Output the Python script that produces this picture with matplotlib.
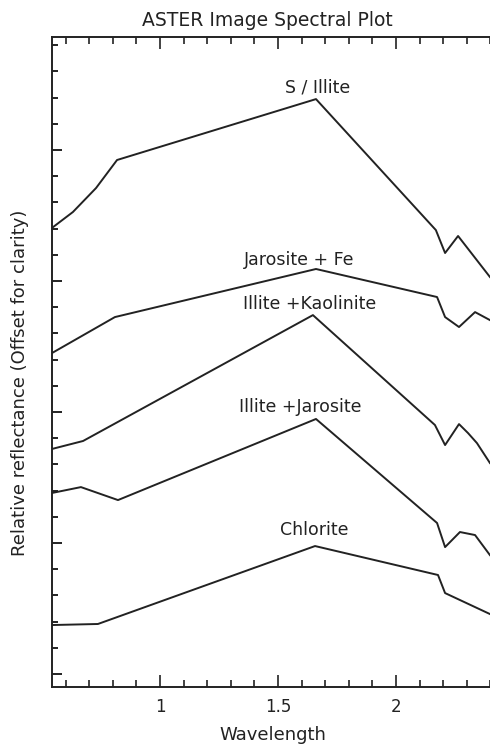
import matplotlib
matplotlib.use("Agg")
import matplotlib.pyplot as plt
from matplotlib.ticker import MultipleLocator

# spectra (wavelength in um, reflectance offset for clarity)
s_illite_x = [0.547, 0.631, 0.729, 0.818, 1.661, 2.169, 2.208, 2.263, 2.398]
s_illite_y = [3.412, 3.527, 3.710, 3.924, 4.389, 3.389, 3.214, 3.344, 3.031]

jarosite_fe_x = [0.542, 0.809, 1.661, 2.174, 2.208, 2.267, 2.335, 2.398]
jarosite_fe_y = [2.450, 2.725, 3.092, 2.878, 2.725, 2.649, 2.763, 2.702]

illite_kaol_x = [0.542, 0.674, 1.648, 2.165, 2.208, 2.267, 2.305, 2.343, 2.398]
illite_kaol_y = [1.718, 1.779, 2.740, 1.901, 1.748, 1.908, 1.840, 1.763, 1.611]

illite_jar_x = [0.542, 0.665, 0.822, 1.661, 2.174, 2.208, 2.271, 2.335, 2.398]
illite_jar_y = [1.382, 1.427, 1.328, 1.947, 1.153, 0.969, 1.084, 1.061, 0.908]

chlorite_x = [0.542, 0.737, 1.657, 2.178, 2.208, 2.398]
chlorite_y = [0.374, 0.382, 0.977, 0.756, 0.618, 0.458]

labels = ["S / Illite", "Jarosite + Fe", "Illite +Kaolinite", "Illite +Jarosite", "Chlorite"]
label_pos = [(1.669, 4.481), (1.589, 3.160), (1.636, 2.824), (1.593, 2.038), (1.653, 1.099)]

plt.rcParams['font.family'] = ['DejaVu Sans']
col = '#222222'

fig = plt.figure(figsize=(4.9, 7.49), dpi=100)
ax = fig.add_axes([52 / 490, 1 - 687 / 749, 440 / 490, 650 / 749])

for xs, ys in [(s_illite_x, s_illite_y), (jarosite_fe_x, jarosite_fe_y),
               (illite_kaol_x, illite_kaol_y), (illite_jar_x, illite_jar_y),
               (chlorite_x, chlorite_y)]:
    ax.plot(xs, ys, color=col, lw=1.4)

for txt, (tx, ty) in zip(labels, label_pos):
    ax.text(tx, ty, txt, ha='center', va='center', fontsize=12.5, color=col)

ax.set_xlim(0.5424, 2.4068)
ax.set_ylim(-0.099, 4.863)

ax.xaxis.set_minor_locator(MultipleLocator(0.1))
ax.yaxis.set_major_locator(MultipleLocator(1.0))
ax.yaxis.set_minor_locator(MultipleLocator(0.2))
ax.set_xticks([1, 1.5, 2])
ax.set_xticklabels(['1', '1.5', '2'])
ax.tick_params(axis='x', which='both', direction='in', top=True, bottom=True,
               colors=col, labelsize=12, pad=8)
ax.tick_params(axis='x', which='major', length=8.5, width=1.2)
ax.tick_params(axis='x', which='minor', length=5, width=1.2)
ax.tick_params(axis='y', which='both', direction='in', left=True, right=False,
               labelleft=False, colors=col)
ax.tick_params(axis='y', which='major', length=7.5, width=1.4)
ax.tick_params(axis='y', which='minor', length=4.5, width=1.4)

for side in ['left', 'bottom', 'top']:
    ax.spines[side].set_linewidth(1.4)
    ax.spines[side].set_color(col)
ax.spines['right'].set_visible(False)

# axis titles and plot title placed in figure pixels
fig.text(273 / 490, 1 - 735 / 749, 'Wavelength', ha='center', va='center',
         fontsize=13, color=col)
fig.text(20 / 490, 1 - 383 / 749, 'Relative reflectance (Offset for clarity)',
         rotation=90, ha='center', va='center', fontsize=13, color=col)
fig.text(267 / 490, 1 - 20 / 749, 'ASTER Image Spectral Plot', ha='center', va='center',
         fontsize=13.5, color=col)

fig.savefig('out.png', dpi=100)
